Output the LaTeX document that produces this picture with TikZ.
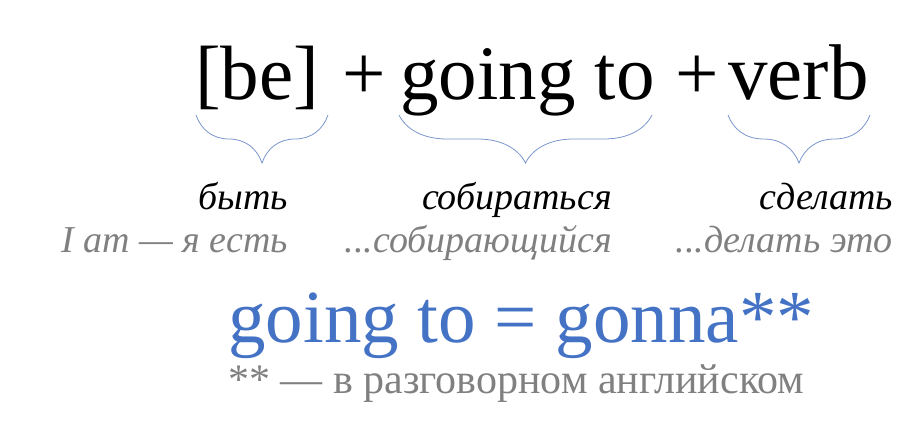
\documentclass[tikz,border=0pt]{standalone}
\usepackage{fontspec}
\setmainfont{Liberation Serif}
\usetikzlibrary{
    decorations.pathreplacing,  % braces
}
\definecolor{gtblue}{HTML}{4472C4}
\definecolor{gtgray}{HTML}{808080}
\definecolor{bracecol}{HTML}{7A96CC}
\tikzset{
    formula/.style={inner sep=0pt, anchor=base west, font=\fontsize{77}{80}\selectfont},
    transl/.style={inner sep=0pt, anchor=base east, font=\fontsize{38}{42}\selectfont\itshape},
    hint/.style={transl, text=gtgray},
    ubrace/.style={draw=bracecol, line width=0.8pt, decorate,
        decoration={brace, amplitude=48pt}},
}

\begin{document}
\begin{tikzpicture}[x=1pt, y=1pt]
    \useasboundingbox (0, 0) rectangle (922, 429);

    \node[formula] (be) at (195, 329) {[be]};
    \node[formula, anchor=base] (plusa) at (364, 329) {+};
    \node[formula] (going) at (400, 329) {going to};
    \node[formula, anchor=base] (plusb) at (697, 329) {+};
    \node[formula, font=\fontsize{79}{82}\selectfont] (verb) at (728, 329) {verb};

    \draw[ubrace] (328, 314) -- (196, 314);
    \draw[ubrace] (652, 314) -- (399, 314);
    \draw[ubrace] (870, 314) -- (728, 314);

    \node[transl] (tbe) at (288, 219) {быть};
    \node[transl] (tgoing) at (612, 219) {собираться};
    \node[transl] (tverb) at (893, 219) {сделать};

    \node[hint] (hbe) at (288, 176) {I am — я есть};
    \node[hint] (hgoing) at (612, 176) {...собирающийся};
    \node[hint] (hverb) at (893, 176) {...делать это};

    \node[inner sep=0pt, anchor=base west, text=gtblue,
        font=\fontsize{75}{78}\selectfont] (gonna) at (228, 87) {going to = gonna**};
    \node[inner sep=0pt, anchor=base west, text=gtgray,
        font=\fontsize{42}{46}\selectfont] (note) at (228, 36) {** — в разговорном английском};
\end{tikzpicture}
\end{document}
